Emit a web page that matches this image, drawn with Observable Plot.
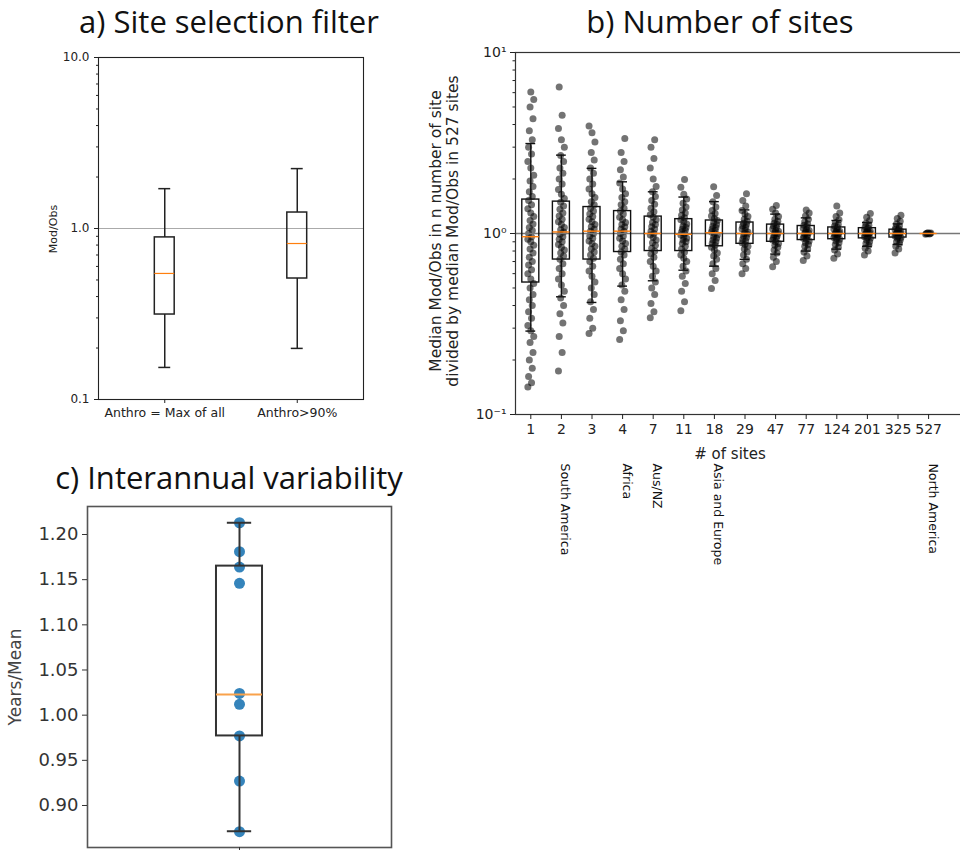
<!DOCTYPE html>
<html><head><meta charset="utf-8">
<script src="https://cdn.jsdelivr.net/npm/d3@7"></script>
<script src="https://cdn.jsdelivr.net/npm/@observablehq/plot@0.6"></script>
<style>
body{margin:0;background:#fff;}
#root{position:relative;width:960px;height:850px;overflow:hidden;background:#fff;font-family:"DejaVu Sans",sans-serif;color:#222;}
.lbl{position:absolute;white-space:nowrap;transform:translate(-50%,-50%);}
.title{font-family:"Open Sans",Lato,sans-serif;color:#111;}
.panel{position:absolute;}
.panel svg{max-width:none !important;}
</style></head><body><div id="root"></div>
<script>
// ---------- Panel a: site selection filter ----------
const filterCategories = ["Anthro = Max of all", "Anthro>90%"];
const filterWhiskerLow = [0.154, 0.199];
const filterQ1 = [0.314, 0.51];
const filterMedian = [0.546, 0.817];
const filterQ3 = [0.887, 1.24];
const filterWhiskerHigh = [1.71, 2.24];
const filterYTicks = [0.1, 1, 10];
const filterYTickLabels = ["0.1", "1.0", "10.0"];

// ---------- Panel b: number of sites ----------
const siteCounts = ["1","2","3","4","7","11","18","29","47","77","124","201","325","527"];
const sitesWhiskerLow = [0.289,0.447,0.416,0.512,0.548,0.627,0.66,0.72,0.77,0.80,0.82,0.85,0.87,1.0];
const sitesQ1 = [0.536,0.718,0.718,0.79,0.80,0.80,0.85,0.877,0.90,0.92,0.93,0.94,0.95,1.0];
const sitesMedian = [0.96,1.02,1.03,1.03,1.0,0.99,1.01,1.0,1.0,1.0,1.0,1.0,1.0,1.0];
const sitesQ3 = [1.54,1.50,1.40,1.33,1.24,1.20,1.18,1.15,1.12,1.10,1.08,1.07,1.05,1.0];
const sitesWhiskerHigh = [3.14,2.71,2.29,1.93,1.70,1.59,1.5,1.35,1.28,1.22,1.18,1.15,1.13,1.0];
const ratiosN1 = [0.142,0.15,0.162,0.18,0.2,0.22,0.25,0.27,0.29,0.31,0.34,0.37,0.4,0.43,0.46,0.5,0.53,0.56,0.6,0.63,0.67,0.7,0.74,0.78,0.82,0.86,0.9,0.93,0.96,1.0,1.04,1.08,1.13,1.18,1.24,1.3,1.37,1.44,1.52,1.6,1.7,1.82,1.95,2.1,2.3,2.5,2.75,3.0,3.3,3.7,4.3,5.0,5.5,6.05];
const ratiosN2 = [0.174,0.22,0.27,0.32,0.36,0.4,0.44,0.48,0.52,0.56,0.6,0.64,0.68,0.72,0.75,0.78,0.81,0.84,0.87,0.9,0.93,0.96,0.99,1.02,1.05,1.08,1.12,1.16,1.2,1.25,1.3,1.36,1.42,1.49,1.56,1.65,1.75,1.88,2.0,2.15,2.3,2.5,2.7,3.0,3.3,3.8,4.5,6.45];
const ratiosN3 = [0.28,0.3,0.34,0.38,0.42,0.46,0.5,0.54,0.58,0.62,0.66,0.7,0.73,0.76,0.79,0.82,0.85,0.88,0.91,0.94,0.97,1.0,1.03,1.06,1.09,1.12,1.16,1.2,1.24,1.28,1.33,1.38,1.44,1.5,1.58,1.66,1.76,1.88,2.0,2.15,2.3,2.55,2.8,3.2,3.6,3.92];
const ratiosN4 = [0.26,0.29,0.33,0.38,0.43,0.48,0.52,0.56,0.6,0.64,0.68,0.72,0.76,0.79,0.82,0.85,0.88,0.91,0.94,0.97,1.0,1.03,1.06,1.09,1.12,1.15,1.19,1.23,1.28,1.33,1.38,1.44,1.5,1.58,1.66,1.76,1.9,2.05,2.25,2.5,2.8,3.35];
const ratiosN7 = [0.342,0.37,0.41,0.46,0.5,0.54,0.58,0.62,0.66,0.7,0.74,0.77,0.8,0.83,0.86,0.89,0.92,0.95,0.98,1.0,1.03,1.06,1.09,1.12,1.15,1.19,1.23,1.27,1.32,1.38,1.45,1.52,1.6,1.7,1.82,2.0,2.3,2.6,3.0,3.3];
const ratiosN11 = [0.374,0.42,0.48,0.53,0.58,0.62,0.66,0.7,0.73,0.76,0.79,0.82,0.85,0.88,0.9,0.92,0.94,0.96,0.98,1.0,1.02,1.04,1.06,1.08,1.1,1.13,1.16,1.19,1.22,1.26,1.3,1.35,1.4,1.47,1.55,1.65,1.8,1.99];
const ratiosN18 = [0.497,0.55,0.6,0.64,0.68,0.72,0.75,0.78,0.81,0.84,0.86,0.88,0.9,0.92,0.94,0.96,0.98,1.0,1.02,1.04,1.06,1.08,1.1,1.12,1.15,1.18,1.21,1.25,1.29,1.34,1.4,1.5,1.62,1.81];
const ratiosN29 = [0.6,0.64,0.68,0.72,0.76,0.79,0.82,0.85,0.87,0.89,0.91,0.93,0.95,0.97,0.99,1.0,1.02,1.04,1.06,1.08,1.1,1.12,1.14,1.17,1.2,1.24,1.28,1.34,1.42,1.52,1.66];
const ratiosN47 = [0.655,0.7,0.74,0.78,0.81,0.84,0.86,0.88,0.9,0.92,0.94,0.95,0.97,0.98,1.0,1.01,1.03,1.04,1.06,1.08,1.1,1.12,1.14,1.17,1.2,1.24,1.3,1.36,1.43];
const ratiosN77 = [0.71,0.75,0.79,0.82,0.85,0.87,0.89,0.91,0.93,0.94,0.96,0.97,0.98,1.0,1.01,1.02,1.04,1.05,1.07,1.09,1.11,1.13,1.16,1.2,1.25,1.3,1.35];
const ratiosN124 = [0.73,0.77,0.81,0.84,0.87,0.89,0.91,0.93,0.94,0.95,0.97,0.98,0.99,1.0,1.01,1.02,1.03,1.05,1.06,1.08,1.1,1.12,1.15,1.19,1.24,1.3,1.42];
const ratiosN201 = [0.76,0.8,0.83,0.86,0.88,0.9,0.92,0.94,0.95,0.96,0.97,0.98,0.99,1.0,1.01,1.02,1.03,1.04,1.05,1.07,1.09,1.11,1.14,1.18,1.23,1.29];
const ratiosN325 = [0.78,0.82,0.85,0.88,0.9,0.92,0.94,0.95,0.96,0.97,0.98,0.99,1.0,1.0,1.01,1.02,1.03,1.04,1.05,1.06,1.08,1.1,1.13,1.17,1.21,1.26];
const ratiosN527 = [0.99,0.995,1.0,1.0,1.0,1.005,1.01];
const sitesYTicks = [0.1, 1, 10];
const sitesYTickLabels = ["10\u207B\u00B9", "10\u2070", "10\u00B9"];
const regionNames = ["South America", "Africa", "Aus/NZ", "Asia and Europe", "North America"];
const regionSiteCounts = ["2", "4", "7", "18", "527"];

// ---------- Panel c: interannual variability ----------
const interannualRatios = [1.213, 1.181, 1.164, 1.146, 1.024, 1.012, 0.977, 0.927, 0.871];
const interannualBox = {lo: 0.8715, q1: 0.977, med: 1.023, q3: 1.165, hi: 1.213};
const interannualYTicks = [0.90, 0.95, 1.00, 1.05, 1.10, 1.15, 1.20];

// ---------- helpers ----------
const root = document.getElementById("root");
function addLabel(text, x, y, css, rotate) {
  const d = document.createElement("div");
  d.className = "lbl" + (css.title ? " title" : "");
  d.textContent = text;
  d.style.left = x + "px"; d.style.top = y + "px";
  d.style.fontSize = css.size + "px";
  if (css.color) d.style.color = css.color;
  if (css.lineHeight) { d.style.lineHeight = css.lineHeight; d.style.whiteSpace = "pre"; d.style.textAlign = "center"; }
  if (rotate) d.style.transform = `translate(-50%,-50%) rotate(${rotate}deg)`;
  root.appendChild(d);
}
function place(svg, left, top, width) {
  const w = document.createElement("div");
  w.className = "panel"; w.style.left = left + "px"; w.style.top = top + "px"; w.style.width = width + "px";
  w.appendChild(svg); root.appendChild(w);
}
function boxMarks(stats, o) {
  return [
    Plot.ruleX(stats, {x: "pos", y1: "lo", y2: "q1", stroke: o.stroke, strokeWidth: o.sw}),
    Plot.ruleX(stats, {x: "pos", y1: "q3", y2: "hi", stroke: o.stroke, strokeWidth: o.sw}),
    Plot.ruleY(stats, {y: "lo", x1: d => d.pos - o.cap, x2: d => d.pos + o.cap, stroke: o.stroke, strokeWidth: o.sw}),
    Plot.ruleY(stats, {y: "hi", x1: d => d.pos - o.cap, x2: d => d.pos + o.cap, stroke: o.stroke, strokeWidth: o.sw}),
    Plot.rect(stats, {x1: d => d.pos - o.half, x2: d => d.pos + o.half, y1: "q1", y2: "q3", fill: "none", stroke: o.stroke, strokeWidth: o.sw}),
    Plot.ruleY(stats, {y: "med", x1: d => d.pos - o.half, x2: d => d.pos + o.half, stroke: o.median, strokeWidth: o.medW})
  ];
}
const logMinor = d3.scaleLog().domain([0.1, 10]).ticks().filter(v => ![0.1, 1, 10].includes(+v.toPrecision(6)));
const baseStyle = {fontFamily: "DejaVu Sans", color: "#222", background: "transparent", maxWidth: "none"};

// ---------- Panel a ----------
const filterStats = filterCategories.map((c, i) => ({pos: i + 1, lo: filterWhiskerLow[i], q1: filterQ1[i], med: filterMedian[i], q3: filterQ3[i], hi: filterWhiskerHigh[i]}));
const plotA = Plot.plot({
  width: 420, height: 400, marginLeft: 98, marginRight: 57, marginTop: 17, marginBottom: 41,
  style: baseStyle,
  x: {type: "linear", domain: [0.5, 2.5]},
  y: {type: "log", domain: [0.1, 10]},
  marks: [
    Plot.ruleY([1], {stroke: "#aaa", strokeWidth: 1}),
    ...boxMarks(filterStats, {stroke: "#222", sw: 1.5, half: 0.075, cap: 0.045, median: "#ff7f0e", medW: 1.2}),
    Plot.frame({stroke: "#222", strokeWidth: 1.1}),
    Plot.axisY({ticks: filterYTicks, tickFormat: d => filterYTickLabels[filterYTicks.indexOf(d)], tickSize: 4, fontSize: 12, label: null}),
    Plot.axisY({ticks: logMinor, tickFormat: () => "", tickSize: 2, label: null}),
    Plot.axisX({ticks: [1, 2], tickFormat: d => filterCategories[d - 1], tickSize: 4, fontSize: 12.5, label: null})
  ]
});
place(plotA, 0, 40, 420);
addLabel("Mod/Obs", 53, 229, {size: 11}, -90);

// ---------- Panel b ----------
const ratioGroups = [ratiosN1, ratiosN2, ratiosN3, ratiosN4, ratiosN7, ratiosN11, ratiosN18, ratiosN29, ratiosN47, ratiosN77, ratiosN124, ratiosN201, ratiosN325, ratiosN527];
const sitePoints = ratioGroups.flatMap((vals, g) => vals.map((v, k) => ({pos: g + 1, jit: (((k * 5) % 9) - 4) * 0.024, v})));
const sitesStats = siteCounts.map((c, i) => ({pos: i + 1, lo: sitesWhiskerLow[i], q1: sitesQ1[i], med: sitesMedian[i], q3: sitesQ3[i], hi: sitesWhiskerHigh[i]}));
const regions = regionNames.map((r, i) => ({name: r, pos: siteCounts.indexOf(regionSiteCounts[i]) + 1}));
const plotB = Plot.plot({
  width: 550, height: 540, marginLeft: 95, marginRight: 0, marginTop: 12, marginBottom: 166,
  style: baseStyle,
  x: {type: "linear", domain: [0.5, 0.5 + 455 / 30.6]},
  y: {type: "log", domain: [0.1, 10]},
  marks: [
    Plot.dot(sitePoints, {x: d => d.pos + d.jit, y: "v", r: 3.5, fill: "#000", fillOpacity: 0.55, stroke: null}),
    Plot.ruleY([1], {stroke: "#777", strokeWidth: 1.6}),
    ...boxMarks(sitesStats, {stroke: "#111", sw: 1.4, half: 0.278, cap: 0.16, median: "#ff7f0e", medW: 1.4}),
    Plot.frame({stroke: "#333", strokeWidth: 1.2}),
    Plot.axisY({ticks: sitesYTicks, tickFormat: d => sitesYTickLabels[sitesYTicks.indexOf(d)], tickSize: 5, fontSize: 14, label: null}),
    Plot.axisY({ticks: logMinor, tickFormat: () => "", tickSize: 2.5, label: null}),
    Plot.axisX({ticks: d3.range(1, siteCounts.length + 1), tickFormat: d => siteCounts[d - 1], tickSize: 5, tickPadding: 5, fontSize: 14, label: null}),
    Plot.text(regions, {x: "pos", text: "name", frameAnchor: "bottom", dy: 49, rotate: 90, textAnchor: "start", fontSize: 12.5, fill: "#111"})
  ]
});
place(plotB, 420, 40, 550);
addLabel("Median Mod/Obs in n number of site\ndivided by median Mod/Obs in 527 sites", 445, 231, {size: 15.5, lineHeight: "17px"}, -90);
addLabel("# of sites", 730, 454, {size: 15});

// ---------- Panel c ----------
const interStats = [{pos: 1, ...interannualBox}];
const plotC = Plot.plot({
  width: 420, height: 370, marginLeft: 87, marginRight: 29, marginTop: 16, marginBottom: 13,
  style: {...baseStyle, color: "#333"},
  x: {type: "linear", domain: [0.5, 1.5]},
  y: {domain: [0.8535, 1.231]},
  marks: [
    Plot.dot(interannualRatios, {x: () => 1, y: d => d, r: 5.5, fill: "#1f77b4", fillOpacity: 0.9, stroke: null}),
    ...boxMarks(interStats, {stroke: "#333", sw: 2, half: 0.0757, cap: 0.04, median: "#f9a24b", medW: 2}),
    Plot.frame({stroke: "#555", strokeWidth: 1.6}),
    Plot.axisY({ticks: interannualYTicks, tickFormat: d => d.toFixed(2), tickSize: 5, fontSize: 18, label: null}),
    Plot.axisX({ticks: [1], tickFormat: () => "", tickSize: 5, label: null})
  ]
});
place(plotC, 0, 490, 420);
addLabel("Years/Mean", 15, 677, {size: 17, color: "#444"}, -90);

// ---------- Titles ----------
addLabel("a) Site selection filter", 229, 21, {size: 31, title: true});
addLabel("b) Number of sites", 720, 21, {size: 31, title: true});
addLabel("c) Interannual variability", 229, 477, {size: 31, title: true});
</script></body></html>
